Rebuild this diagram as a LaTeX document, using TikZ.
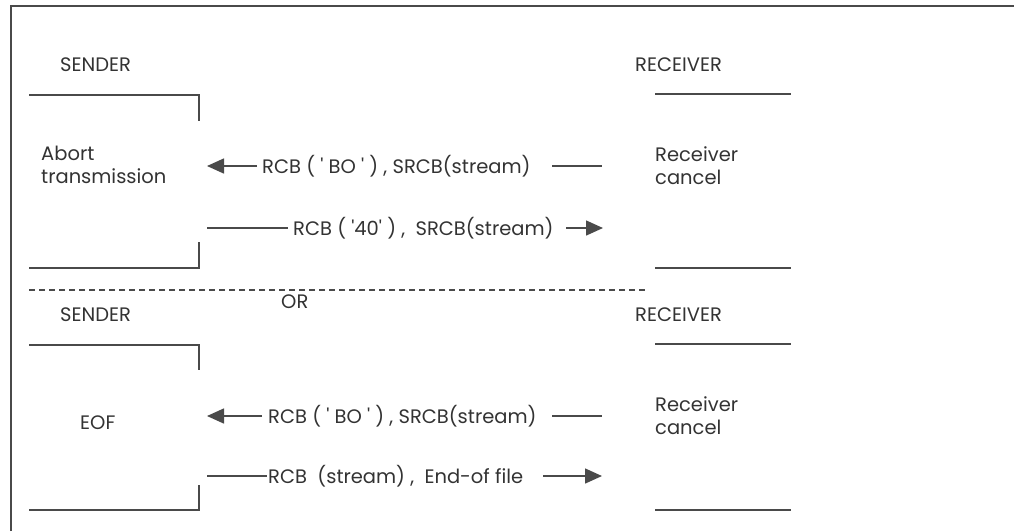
\documentclass[tikz,border=0pt]{standalone}
\usepackage{fontspec}
\setmainfont{Poppins}[Ligatures=TeXOff]
\usetikzlibrary{arrows.meta}
\definecolor{ln}{HTML}{4A4A4A}
\definecolor{tx}{HTML}{333333}
\tikzset{
  lbl/.style={anchor=west,inner sep=0pt,text=tx,font=\fontsize{19.5}{23}\selectfont},
  ml/.style={lbl,align=left,font=\fontsize{19.5}{23}\selectfont},
  ln/.style={draw=ln,line width=1.5pt},
  arr/.style={ln,-{Triangle[length=17pt,width=15pt]}},
  dsh/.style={ln,line width=1.3pt,dash pattern=on 6pt off 4pt}
}
\begin{document}
\begin{tikzpicture}[x=1pt,y=-1pt]
\useasboundingbox (0,0) rectangle (1014,531);
% frame
\draw[ln,line width=1.8pt] (11,531) -- (11,6) -- (1014,6);

% ---------- upper block ----------
\node[lbl] (s1) at (60,65) {SENDER};
\node[lbl] (r1) at (635,65) {RECEIVER};
\draw[ln] (29,95) -- (199,95) -- (199,121);
\draw[ln] (199,242) -- (199,268) -- (29,268);
\draw[ln] (655,94) -- (791,94);
\draw[ln] (655,268) -- (791,268);
\node[ml] (abort) at (41,165) {Abort\\transmission};
\node[ml] (rc1) at (655,166) {Receiver\\cancel};

\node[lbl] (m1) at (262,166) {RCB ( ' BO ' ) , SRCB(stream)};
\coordinate (m1a) at (207,166);
\coordinate (m1b) at (257,166);
\coordinate (m1c) at (552,166);
\coordinate (m1d) at (602,166);
\draw[arr] (m1b) -- (m1a);
\draw[ln] (m1c) -- (m1d);

\node[lbl] (m2) at (293,228) {RCB ( '40' ) ,\ \ SRCB(stream)};
\coordinate (m2a) at (207,228);
\coordinate (m2b) at (288,228);
\coordinate (m2c) at (566,228);
\coordinate (m2d) at (603,228);
\draw[ln] (m2a) -- (m2b);
\draw[arr] (m2c) -- (m2d);

% separator
\coordinate (d1) at (29,290);
\coordinate (d2) at (645,290);
\draw[dsh] (d1) -- (d2);
\node[lbl] (or) at (281,302) {OR};

% ---------- lower block ----------
\node[lbl] (s2) at (60,315) {SENDER};
\node[lbl] (r2) at (635,315) {RECEIVER};
\draw[ln] (29,345) -- (199,345) -- (199,370);
\draw[ln] (199,485) -- (199,510) -- (29,510);
\draw[ln] (655,344) -- (791,344);
\draw[ln] (655,510) -- (791,510);
\node[lbl] (eof) at (80,423) {EOF};
\node[ml] (rc2) at (655,416) {Receiver\\cancel};

\node[lbl] (m3) at (268,416) {RCB ( ' BO ' ) , SRCB(stream)};
\coordinate (m3a) at (207,416);
\coordinate (m3b) at (262,416);
\coordinate (m3c) at (552,416);
\coordinate (m3d) at (602,416);
\draw[arr] (m3b) -- (m3a);
\draw[ln] (m3c) -- (m3d);

\node[lbl] (m4) at (268,476) {RCB\ \ (stream) ,\ \ End-of file};
\coordinate (m4a) at (207,476);
\coordinate (m4b) at (267,476);
\coordinate (m4c) at (543,476);
\coordinate (m4d) at (602,476);
\draw[ln] (m4a) -- (m4b);
\draw[arr] (m4c) -- (m4d);
\end{tikzpicture}
\end{document}
